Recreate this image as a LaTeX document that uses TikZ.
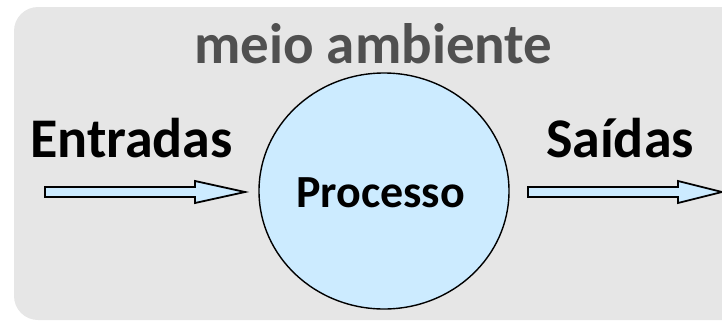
\documentclass[tikz,border=0pt]{standalone}
\usepackage{fontspec}
\setmainfont{Carlito}
\usepackage{xcolor}
\usepackage{tikz}
\usetikzlibrary{shapes.geometric}

\definecolor{envgray}{HTML}{E6E6E6}
\definecolor{procblue}{HTML}{CCEBFF}
\definecolor{labelgray}{HTML}{505050}

\tikzset{
  flow/.style={draw=black, line width=1.8bp, fill=procblue, line join=miter},
  bigword/.style={anchor=base, font=\fontsize{56bp}{60bp}\selectfont\bfseries}
}

\begin{document}
\begin{tikzpicture}[x=1bp,y=-1bp]
\useasboundingbox (0,0) rectangle (722,322);

\fill [envgray, rounded corners=24bp]  (14,7) rectangle (760,320);

\node (env) [anchor=base, text=labelgray, font=\fontsize{57bp}{60bp}\selectfont\bfseries] at (373.5,63) {meio ambiente};

\node (proc) [ellipse, draw=black, line width=1.4bp, fill=procblue, minimum width=250bp, minimum height=236bp, inner sep=0pt] at (384,191) {};
\node (proctxt) [anchor=base, font=\fontsize{46bp}{50bp}\selectfont\bfseries] at (380.5,207) {Processo};

\node (inp) [bigword] at (131.5,157) {Entradas};
\node (out) [bigword] at (620,157) {Saídas};

% entrada
\draw [flow] (45,187) -- (195,187) -- (195,181) -- (245,192) -- (195,203) -- (195,197) -- (45,197) -- cycle;
% saida
\draw [flow] (528,187) -- (678,187) -- (678,181) -- (722,192) -- (678,203) -- (678,197) -- (528,197) -- cycle;
\end{tikzpicture}
\end{document}
